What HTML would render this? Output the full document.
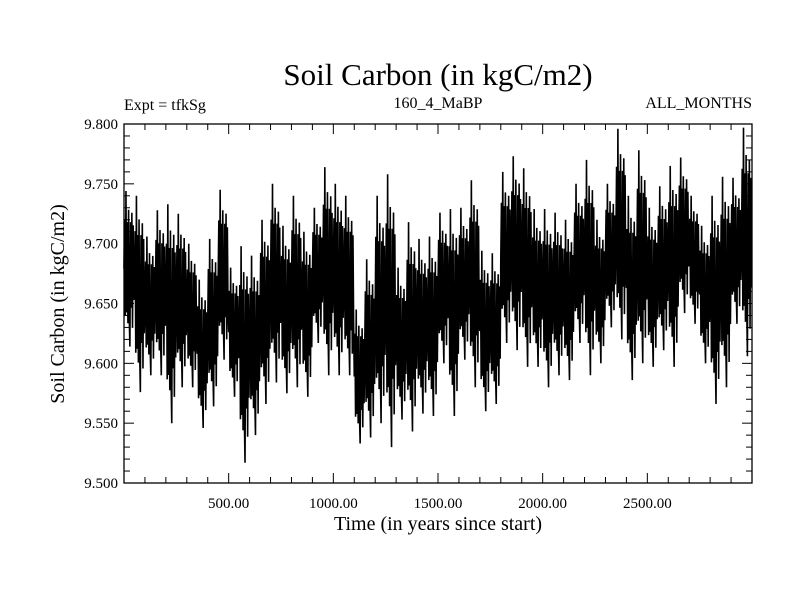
<!DOCTYPE html>
<html><head><meta charset="utf-8"><style>
html,body{margin:0;padding:0;background:#fff;}
svg text{font-family:"Liberation Serif",serif;fill:#000;}
</style></head><body>
<svg width="800" height="600" viewBox="0 0 800 600">
<text x="438" y="85" font-size="31" text-anchor="middle">Soil Carbon (in kgC/m2)</text>
<text x="124" y="110" font-size="16">Expt = tfkSg</text>
<text x="438" y="108" font-size="16" text-anchor="middle">160_4_MaBP</text>
<text x="752" y="108" font-size="16" text-anchor="end">ALL_MONTHS</text>
<text x="438" y="530" font-size="20" text-anchor="middle">Time (in years since start)</text>
<text transform="translate(64,304) rotate(-90)" font-size="20" text-anchor="middle">Soil Carbon (in kgC/m2)</text>
<g id="ticks"></g>
<g id="series"></g>
<rect x="124" y="124" width="628" height="359" fill="none" stroke="#000" stroke-width="1.3"/>
</svg>
<script>
const binStart = 0, binWidth = 50;
const hiVals = [9.744,9.74,9.706,9.728,9.733,9.725,9.70,9.67,9.704,9.745,9.68,9.698,9.69,9.72,9.75,9.715,9.74,9.71,9.73,9.764,9.75,9.74,9.645,9.687,9.74,9.758,9.68,9.718,9.704,9.706,9.726,9.729,9.73,9.753,9.694,9.692,9.76,9.773,9.763,9.729,9.729,9.726,9.72,9.75,9.77,9.72,9.75,9.796,9.74,9.778,9.73,9.748,9.765,9.772,9.74,9.715,9.74,9.756,9.755,9.797];
const loVals = [9.614,9.576,9.59,9.59,9.55,9.58,9.58,9.546,9.564,9.603,9.572,9.517,9.54,9.566,9.584,9.575,9.58,9.572,9.617,9.59,9.59,9.59,9.533,9.538,9.55,9.53,9.553,9.543,9.558,9.556,9.60,9.556,9.603,9.58,9.56,9.566,9.617,9.611,9.597,9.597,9.58,9.59,9.586,9.617,9.59,9.60,9.63,9.62,9.586,9.60,9.597,9.611,9.597,9.642,9.633,9.60,9.566,9.58,9.633,9.606];
const xTickLabels = ["500.00","1000.00","1500.00","2000.00","2500.00"];
const xTickValues = [500,1000,1500,2000,2500];
const yTickLabels = ["9.500","9.550","9.600","9.650","9.700","9.750","9.800"];
const yTickValues = [9.50,9.55,9.60,9.65,9.70,9.75,9.80];

const L=124,R=752,T=124,B=483, X0=0,X1=3000, Y0=9.5,Y1=9.8;
const xs=t=>L+(t-X0)/(X1-X0)*(R-L);
const ys=v=>B-(v-Y0)/(Y1-Y0)*(B-T);
const NS="http://www.w3.org/2000/svg";
const tg=document.getElementById('ticks');
function ln(x1,y1,x2,y2){const l=document.createElementNS(NS,'line');l.setAttribute('x1',x1);l.setAttribute('y1',y1);l.setAttribute('x2',x2);l.setAttribute('y2',y2);l.setAttribute('stroke','#000');l.setAttribute('stroke-width','1');


tg.appendChild(l);}
for(let t=100;t<3000;t+=100){const x=xs(t),len=(t%500===0)?10:6;ln(x,B,x,B-len);ln(x,T,x,T+len);}
for(let i=1;i<30;i++){const v=Y0+i*0.01,y=ys(v),len=(i%5===0)?10:6;ln(L,y,L+len,y);ln(R,y,R-len,y);}
xTickValues.forEach((t,i)=>{const tx=document.createElementNS(NS,'text');tx.setAttribute('x',xs(t));tx.setAttribute('y',B+25);tx.setAttribute('font-size','15');tx.setAttribute('text-anchor','middle');tx.textContent=xTickLabels[i];


tg.appendChild(tx);});
yTickValues.forEach((v,i)=>{const tx=document.createElementNS(NS,'text');tx.setAttribute('x',L-6);tx.setAttribute('y',ys(v)+5);tx.setAttribute('font-size','15');tx.setAttribute('text-anchor','end');tx.textContent=yTickLabels[i];


tg.appendChild(tx);});
// series line: each bin traced through its extremes plus a dense core band
let pts=[];
hiVals.forEach((hi,i)=>{const lo=loVals[i],m=(hi+lo)/2,h=(hi-lo),t0=binStart+i*binWidth;
 const seq=[m,m+0.32*h,m-0.3*h,hi,m-0.28*h,m+0.3*h,m-0.35*h,m+0.38*h,m-0.3*h,lo,m+0.3*h,m-0.25*h,m+0.36*h,m-0.38*h,m+0.28*h,m-0.2*h];
 seq.forEach((v,k)=>pts.push(xs(t0+k*binWidth/seq.length).toFixed(2)+','+ys(v).toFixed(1)));});
const pl=document.createElementNS(NS,'polyline');
pl.setAttribute('points',pts.join(' '));pl.setAttribute('fill','none');pl.setAttribute('stroke','#000');pl.setAttribute('stroke-width','1.6');pl.setAttribute('stroke-linejoin','miter');


document.getElementById('series').appendChild(pl);
</script>
</body></html>
